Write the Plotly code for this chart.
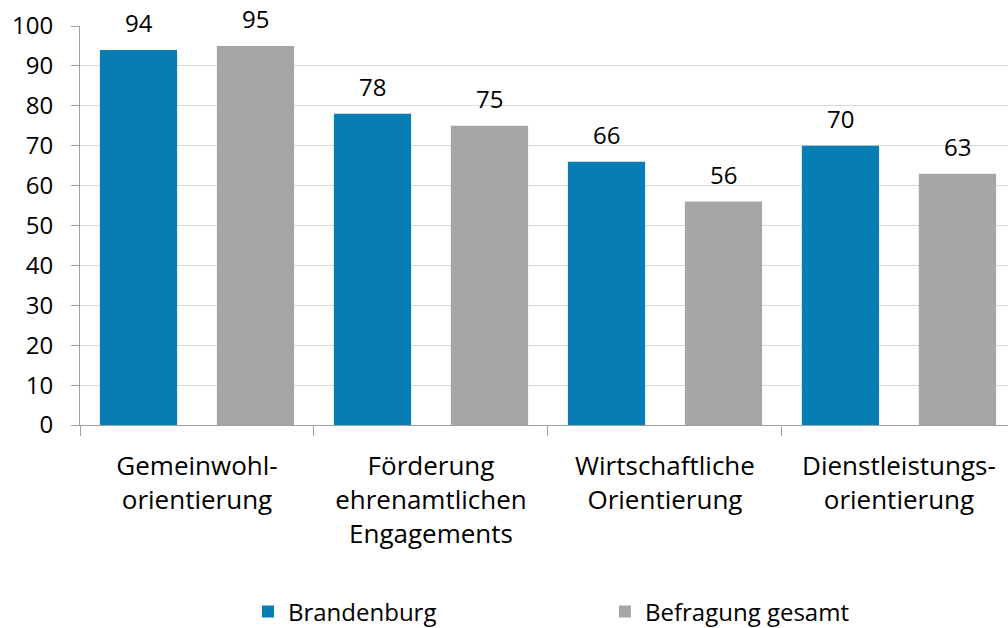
import plotly.graph_objects as go

categories = ["Gemeinwohl-<br>orientierung",
              "Förderung<br>ehrenamtlichen<br>Engagements",
              "Wirtschaftliche<br>Orientierung",
              "Dienstleistungs-<br>orientierung"]
brandenburg = [94, 78, 66, 70]
gesamt = [95, 75, 56, 63]
series_names = ["Brandenburg", "Befragung gesamt"]
y_ticks = list(range(0, 101, 10))

FONT = "Open Sans"
BLUE = "#067DB4"
GREY = "#A6A6A6"

fig = go.Figure()
for name, vals, col in [(series_names[0], brandenburg, BLUE),
                        (series_names[1], gesamt, GREY)]:
    fig.add_trace(go.Bar(
        x=categories, y=vals, name=name,
        marker=dict(color=col, line=dict(width=0)),
        offsetgroup=name,
    ))

# value labels above each bar, placed via the category axis offsets
group_offsets = [-0.25, 0.25]
for off, vals in zip(group_offsets, [brandenburg, gesamt]):
    for i, v in enumerate(vals):
        fig.add_annotation(
            x=i + off, y=v, xref="x", yref="y", text=str(v),
            showarrow=False, yanchor="middle", yshift=27,
            font=dict(family=FONT, size=24, color="#000000"),
        )

fig.update_layout(
    width=1008, height=628,
    margin=dict(l=80, r=0, t=26, b=203, autoexpand=False),
    paper_bgcolor="white", plot_bgcolor="white",
    barmode="group", bargap=0.0, bargroupgap=0.34,
    font=dict(family=FONT, size=24, color="#000000"),
    showlegend=True,
    legend=dict(orientation="h", xref="container", x=0.246, xanchor="left",
                yref="container", y=0.0255, yanchor="middle",
                entrywidth=312, entrywidthmode="pixels", itemwidth=30,
                font=dict(family=FONT, size=24)),
    xaxis=dict(
        range=[-0.5, 3.466],
        showline=True, linecolor="#A0A0A0", linewidth=1,
        ticks="outside", tickson="boundaries", ticklen=10, tickcolor="#A0A0A0",
        tickfont=dict(family=FONT, size=26), showgrid=False,
        ticklabelstandoff=18,
    ),
    yaxis=dict(
        range=[0, 100], tickvals=y_ticks,
        showline=True, linecolor="#A0A0A0", linewidth=1,
        ticks="outside", ticklen=8, tickcolor="#A0A0A0",
        showgrid=True, gridcolor="#D9D9D9", gridwidth=1,
        tickfont=dict(family=FONT, size=24), zeroline=False,
        ticklabelstandoff=13,
    ),
)

fig.write_html("out.html")
